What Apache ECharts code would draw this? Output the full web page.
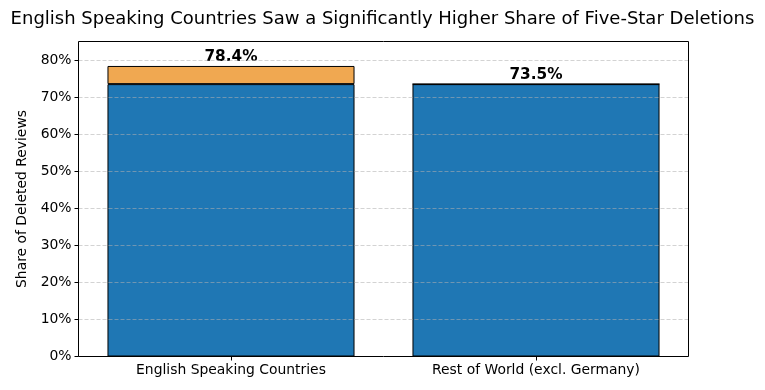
<!DOCTYPE html>
<html><head><meta charset="utf-8">
<script src="https://cdn.jsdelivr.net/npm/echarts@6/dist/echarts.min.js"></script>
<style>html,body{margin:0;padding:0;background:#fff}#c{width:765px;height:390px}</style>
</head><body><div id="c"></div>
<script>
const categories = ['English Speaking Countries', 'Rest of World (excl. Germany)'];
const baseShare = [73.5, 73.5];
const extraShare = [4.9, 0];
const totalShare = [78.4, 73.5];
const yTicks = [0, 10, 20, 30, 40, 50, 60, 70, 80];

const F = 'DejaVu Sans';
const chart = echarts.init(document.getElementById('c'), null, {renderer: 'canvas'});
chart.setOption({
  animation: false,
  backgroundColor: '#fff',
  title: {
    text: 'English Speaking Countries Saw a Significantly Higher Share of Five-Star Deletions',
    left: 'center', top: 5,
    textStyle: {fontFamily: F, fontSize: 18, fontWeight: 'normal', color: '#000'}
  },
  grid: {left: 78.5, right: 76.5, top: 41.5, bottom: 33.5, show: true, borderColor: '#000', borderWidth: 1, backgroundColor: 'transparent', z: 5},
  xAxis: {
    type: 'category', data: categories,
    axisLine: {show: false},
    axisTick: {show: true, alignWithLabel: true, length: 4, lineStyle: {color: '#000'}},
    axisLabel: {fontFamily: F, fontSize: 13.9, color: '#000', margin: 7},
    splitLine: {show: false}
  },
  yAxis: {
    type: 'value', min: 0, max: 85, interval: 10, z: 3,
    name: 'Share of Deleted Reviews', nameLocation: 'middle', nameGap: 45,
    nameTextStyle: {fontFamily: F, fontSize: 13.9, color: '#000'},
    axisLine: {show: false},
    axisTick: {show: true, length: 4, lineStyle: {color: '#000'}, customValues: yTicks},
    axisLabel: {fontFamily: F, fontSize: 13.9, color: '#000', margin: 7,
      customValues: yTicks, formatter: v => v + '%'},
    splitLine: {show: true, lineStyle: {color: 'rgba(176,176,176,0.7)', type: [4, 2], width: 0.8}}
  },
  series: [
    {
      type: 'bar', stack: 's', data: baseShare, barWidth: '81%', z: 2,
      itemStyle: {color: '#1f77b4', borderColor: '#000', borderWidth: 1}
    },
    {
      type: 'bar', stack: 's', data: extraShare, barWidth: '81%', z: 2,
      itemStyle: {color: '#f0a851', borderColor: '#000', borderWidth: 1},
      label: {show: true, position: 'top', distance: 1,
        fontFamily: F, fontSize: 15.3, fontWeight: 'bold', color: '#000',
        formatter: p => totalShare[p.dataIndex].toFixed(1) + '%'}
    }
  ]
});
</script></body></html>
